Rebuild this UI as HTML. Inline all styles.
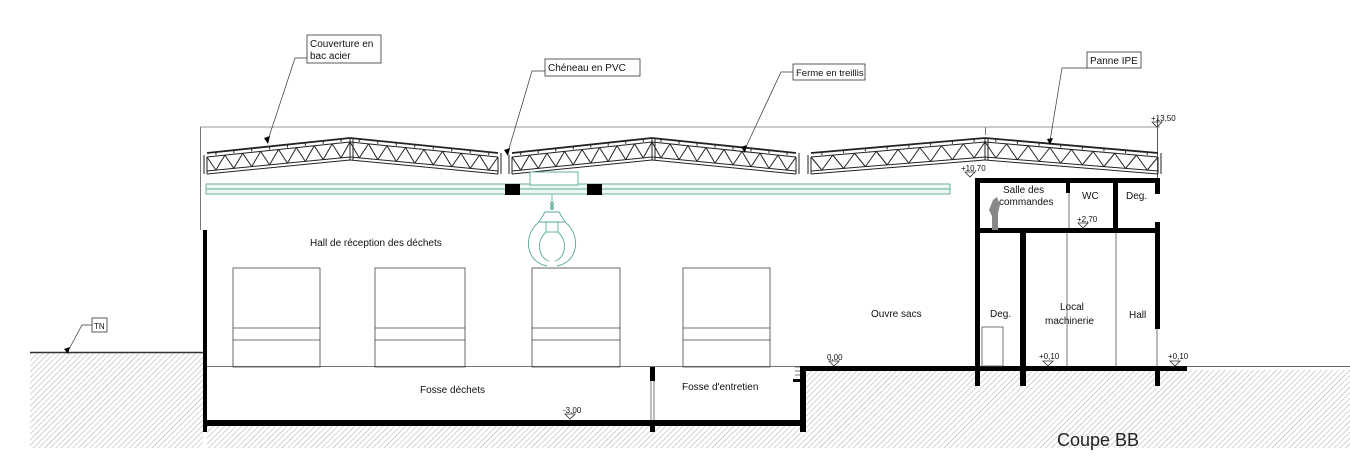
<!DOCTYPE html><html><head><meta charset="utf-8"><style>html,body{margin:0;padding:0;background:#fff}svg{display:block}text{font-family:"Liberation Sans",sans-serif;fill:#111}</style></head><body>
<svg id="s" width="1350" height="470" viewBox="0 0 1350 470" xmlns="http://www.w3.org/2000/svg">
<defs><pattern id="h" width="4" height="4" patternUnits="userSpaceOnUse" patternTransform="rotate(45)"><line x1="0" y1="0" x2="0" y2="4" stroke="#aaa" stroke-width="1"/></pattern></defs>
<rect x="30" y="353" width="173" height="95" fill="url(#h)"/>
<rect x="207" y="426" width="599" height="22" fill="url(#h)"/>
<rect x="806" y="370" width="544" height="78" fill="url(#h)"/>
<line x1="30" y1="352.5" x2="203" y2="352.5" stroke="#333" stroke-width="1.5"/>
<line x1="1185" y1="366.5" x2="1350" y2="366.5" stroke="#666" stroke-width="1"/>
<line x1="200" y1="127" x2="1160" y2="127" stroke="#999" stroke-width="1"/>
<line x1="200.5" y1="127" x2="200.5" y2="230" stroke="#777" stroke-width="1"/>
<line x1="1157.5" y1="118" x2="1157.5" y2="178" stroke="#555" stroke-width="1"/>
<line x1="985.5" y1="127" x2="985.5" y2="135" stroke="#777" stroke-width="1"/>
<g id="tr" fill="none" stroke="#222" stroke-width="1"></g>
<!-- crane -->
<g stroke="#5a9" stroke-width="0.9" fill="#eef8f1">
<rect x="206" y="184" width="744" height="10"/>
<line x1="206" y1="189" x2="950" y2="189"/>
<rect x="530" y="172" width="48" height="13" fill="#fff"/>
<g fill="none">
<path d="M552 195 v15"/><circle cx="552" cy="204" r="1.5"/><circle cx="552" cy="208" r="1.5"/>
<path d="M545 212 h14 l6 10 h-26z"/>
<rect x="546" y="222" width="12" height="10"/>
<path d="M539 222 C522 236 526 262 547 266"/><path d="M565 222 C582 236 578 262 557 266"/>
<path d="M546 232 C535 242 539 258 549 261"/><path d="M558 232 C569 242 565 258 555 261"/>
</g>
</g>
<g fill="#000">
<rect x="203" y="230" width="4" height="202"/>
<rect x="203" y="420" width="603" height="6"/>
<rect x="800" y="366" width="6" height="66"/>
<rect x="800" y="366" width="387" height="5"/>
<rect x="650" y="367" width="5" height="14"/>
<rect x="650" y="420" width="5" height="12"/>
<rect x="793" y="379" width="10" height="3"/>
<rect x="975" y="178" width="185" height="5"/>
<rect x="975" y="178" width="5" height="208"/>
<rect x="975" y="228" width="185" height="5"/>
<rect x="1020" y="228" width="6" height="158"/>
<rect x="1155" y="178" width="5" height="16"/>
<rect x="1155" y="222" width="5" height="107"/>
<rect x="1155" y="366" width="5" height="20"/>
<rect x="1066" y="178" width="4" height="15"/>
<rect x="1113" y="178" width="5" height="52"/>
<rect x="505" y="184" width="15" height="11"/>
<rect x="587" y="184" width="15" height="11"/>
</g>
<g stroke="#555" stroke-width="0.8" fill="none">
<line x1="651" y1="381" x2="651" y2="420"/><line x1="654" y1="381" x2="654" y2="420"/>
<line x1="1069" y1="193" x2="1069" y2="228"/>
<line x1="1067" y1="233" x2="1067" y2="366"/><line x1="1116" y1="233" x2="1116" y2="366"/>
<line x1="1157" y1="329" x2="1157" y2="366"/>
<rect x="982" y="327" width="21" height="39"/>
<line x1="795" y1="367" x2="800" y2="367"/><line x1="795" y1="371" x2="800" y2="371"/><line x1="795" y1="375" x2="800" y2="375"/>
</g>
<path d="M993 200 l4 -3 l3 8 l-2 8 l0 17 l-6 0 l0 -14 l-3 -6z" fill="#888"/>
<g stroke="#444" stroke-width="0.8" fill="none">
<rect x="233" y="268" width="87" height="99"/><rect x="375" y="268" width="90" height="99"/>
<rect x="532" y="268" width="88" height="99"/><rect x="683" y="268" width="87" height="99"/>
<line x1="233" y1="328" x2="320" y2="328"/><line x1="233" y1="340" x2="320" y2="340"/>
<line x1="375" y1="328" x2="465" y2="328"/><line x1="375" y1="340" x2="465" y2="340"/>
<line x1="532" y1="328" x2="620" y2="328"/><line x1="532" y1="340" x2="620" y2="340"/>
<line x1="683" y1="328" x2="770" y2="328"/><line x1="683" y1="340" x2="770" y2="340"/>
<line x1="207" y1="366.5" x2="800" y2="366.5"/>
</g>
<g stroke="#333" stroke-width="0.8" fill="none">
<path d="M1152 122 l5 5 l5 -5z M965 172 l5 5 l5 -5z M1078 223 l5 5 l5 -5z M829 361 l5 5 l5 -5z M1043 361 l5 5 l5 -5z M1170 361 l5 5 l5 -5z M565 414 l5 5 l5 -5z"/>
</g>
<g font-size="8"><text x="1151" y="121">+13,50</text><text x="961" y="171">+10,70</text><text x="1077" y="222">+2,70</text><text x="827" y="360">0,00</text><text x="1039" y="359">+0,10</text><text x="1168" y="359">+0,10</text><text x="563" y="413">-3,00</text></g>
<g stroke="#333" stroke-width="0.8" fill="#fff">
<rect x="307" y="35" width="74" height="28"/><rect x="545" y="59" width="95" height="17"/>
<rect x="793" y="64" width="72" height="16"/><rect x="1087" y="52" width="54" height="16"/>
<rect x="92" y="318" width="15" height="14"/>
</g>
<g stroke="#333" stroke-width="0.7" fill="none">
<path d="M307 58 h-12 l-27 82"/><path d="M545 71 h-13 l-24 81"/><path d="M793 72 h-12 l-36 77"/><path d="M1087 68 h-25 l-12 73"/><path d="M92 325 h-10 l-14 26"/>
</g>
<g fill="#000"><path d="M264 138 l4 6 l2 -8z M504 150 l4 6 l2 -8z M741 147 l4 6 l2 -8z M1047 139 l3 6 l3 -7z M64 349 l4 5 l2 -7z"/></g>
<g font-size="10">
<text x="310" y="47">Couverture en</text><text x="310" y="59">bac acier</text>
<text x="548" y="71">Chéneau en PVC</text><text x="796" y="76" font-size="9.5">Ferme en treillis</text>
<text x="1090" y="64">Panne IPE</text><text x="94" y="329" font-size="8">TN</text>
<text x="310" y="246">Hall de réception des déchets</text>
<text x="871" y="317">Ouvre sacs</text>
<text x="420" y="393">Fosse déchets</text>
<text x="682" y="390">Fosse d'entretien</text>
<text x="1003" y="193">Salle des</text><text x="999" y="205">commandes</text>
<text x="1082" y="199">WC</text><text x="1126" y="199">Deg.</text>
<text x="990" y="317">Deg.</text><text x="1060" y="310">Local</text><text x="1045" y="324">machinerie</text>
<text x="1129" y="318">Hall</text>
</g>
<text x="1057" y="446" font-size="18" style="fill:#222">Coupe BB</text>
</svg>
<script>
(function(){var g=document.getElementById('tr'),ns='http://www.w3.org/2000/svg';
function L(x1,y1,x2,y2,w){var l=document.createElementNS(ns,'line');l.setAttribute('x1',x1);l.setAttribute('y1',y1);l.setAttribute('x2',x2);l.setAttribute('y2',y2);if(w)l.setAttribute('stroke-width',w);g.appendChild(l);}
var spans=[[207,350,498],[512,652,796],[811,985,1158]];
spans.forEach(function(s){var a=s[0],p=s[1],b=s[2];
var top=function(x){return x<p?153-(x-a)/(p-a)*15:138+(x-p)/(b-p)*15;};
var bot=function(x){return x<p?174-(x-a)/(p-a)*14:160+(x-p)/(b-p)*14;};
L(a,top(a),p,138,1.8);L(p,138,b,153,1.8);
L(a,top(a)+4,p,142);L(p,142,b,157);
L(a,bot(a),p,160);L(p,160,b,174);L(a,bot(a)-3,p,157);L(p,157,b,171);
L(a,top(a)+4,a,bot(a));L(b,157,b,174);L(p,138,p,160);L(p+3,138,p+3,160);
var n=8;[[a,p],[p,b]].forEach(function(h){var w=(h[1]-h[0])/n;for(var i=0;i<n;i++){var x0=h[0]+i*w,x1=x0+w/2,x2=x0+w;
L(x0,top(x0)+4,x1,bot(x1)-3);L(x1,bot(x1)-3,x2,top(x2)+4);L(x1,top(x1),x1,top(x1)+3);}});
L(a-3,top(a)+2,a-3,bot(a));L(b+3,153,b+3,174);});
})();
</script>
</body></html>
